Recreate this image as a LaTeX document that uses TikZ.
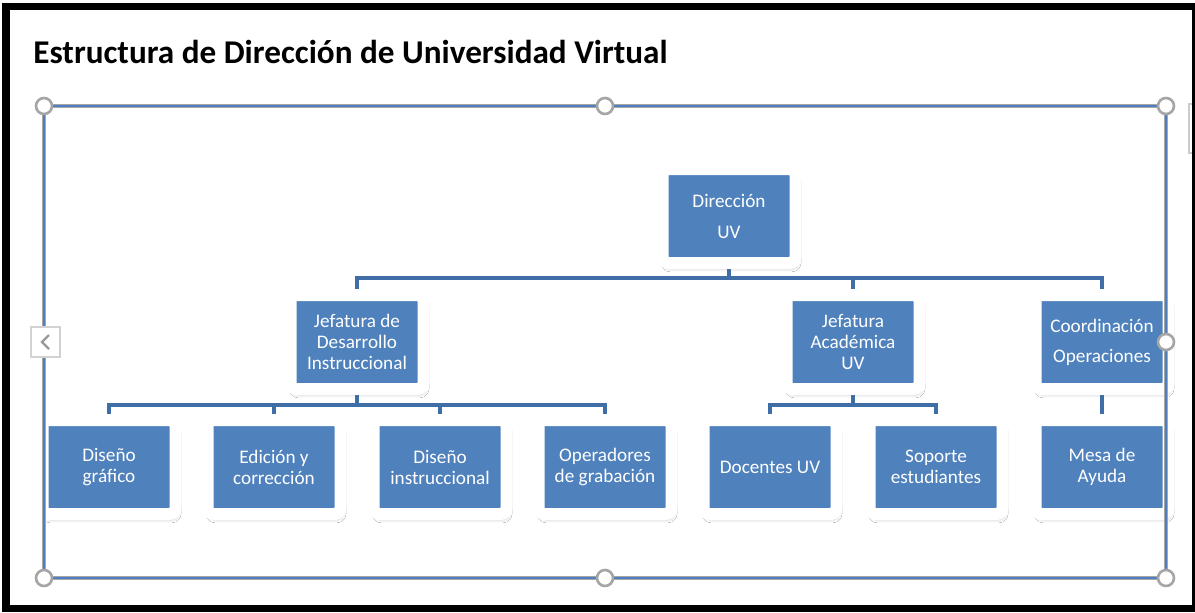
\documentclass[tikz,border=0pt]{standalone}
\usepackage{fontspec}
\setmainfont{Carlito}
\usepackage{xcolor}
\usetikzlibrary{backgrounds,shadows.blur}

\definecolor{boxblue}{HTML}{4F81BD}
\definecolor{linkblue}{HTML}{3F6EA6}
\definecolor{selblue}{HTML}{4F7FC0}
\definecolor{handlegray}{HTML}{A5A5A5}

\tikzset{
  unit/.style={rectangle, rounded corners=3pt, fill=boxblue, draw=white, line width=6pt,
    minimum width=66.5pt, minimum height=47pt, inner sep=0pt, align=center, text=white,
    font=\fontsize{9.6}{10.5}\selectfont,
    blur shadow={shadow xshift=1pt, shadow yshift=-2.6pt,
      shadow blur radius=1.8pt, shadow opacity=26}},
  link/.style={linkblue, line width=2.2pt},
  handle/.style={fill=white, draw=handlegray, line width=1.3pt},
}

\begin{document}
\begin{tikzpicture}[x=0.5pt, y=-0.5pt]
\useasboundingbox (0,0) rectangle (1195,612);
\node[anchor=base west, inner sep=0pt, font=\fontsize{16.6}{20}\selectfont\bfseries] (title) at (33,63) {Estructura de Dirección de Universidad Virtual};

% top level
\node[unit] (dir) at (729,216) {Dirección\\[5pt]UV};
% second level
\node[unit] (jdi) at (357,342) {Jefatura de\\Desarrollo\\Instruccional};
\node[unit] (jac) at (853,342) {Jefatura\\Académica\\UV};
\node[unit] (coo) at (1102,342) {Coordinación\\[4.5pt]Operaciones};
% third level
\node[unit] (dg) at (109,467) {Diseño\\gráfico};
\node[unit] (ec) at (274,467) {Edición y\\corrección};
\node[unit] (di) at (440,467) {Diseño\\instruccional};
\node[unit] (og) at (605,467) {Operadores\\de grabación};
\node[unit] (doc) at (770,467) {Docentes UV};
\node[unit] (se) at (936,467) {Soporte\\estudiantes};
\node[unit] (mda) at (1102,467) {Mesa de\\Ayuda};

\begin{scope}[on background layer]
\fill[white] (0,0) rectangle (1195,612);
\coordinate (b1) at (729,278);
\coordinate (b2) at (357,405);
\coordinate (b3) at (853,405);
\draw[link] (dir) -- (b1);
\foreach \n in {jdi,jac,coo} \draw[link] (b1) -| (\n);
\draw[link] (jdi) -- (b2);
\foreach \n in {dg,ec,di,og} \draw[link] (b2) -| (\n);
\draw[link] (jac) -- (b3);
\foreach \n in {doc,se} \draw[link] (b3) -| (\n);
\draw[link] (coo) -- (mda);
\end{scope}

% selection frame
\draw[gray!70, line width=2.2pt] (44,106) rectangle (1166,578);
\draw[selblue, line width=1.2pt] (44,106) rectangle (1166,578);
\foreach \hx/\hy in {44/106, 605/106, 1166/106, 1166/342, 1166/578, 605/578, 44/578}
  \draw[handle] (\hx,\hy) circle (8);
\draw[gray!35, fill=white, line width=0.6pt] (31,327) rectangle (60,357);
\draw[gray!80, line width=1.2pt] (49,335) -- (42,342) -- (49,349);
\draw[gray!40, line width=0.8pt] (1189,104) rectangle (1200,153);

% outer frame
\fill[black] (2,3) rectangle (1195,10);
\fill[black] (2,3) rectangle (10,612);
\fill[black] (2,605) rectangle (1195,612);
\fill[black] (1192,3) rectangle (1195,612);
\end{tikzpicture}
\end{document}
